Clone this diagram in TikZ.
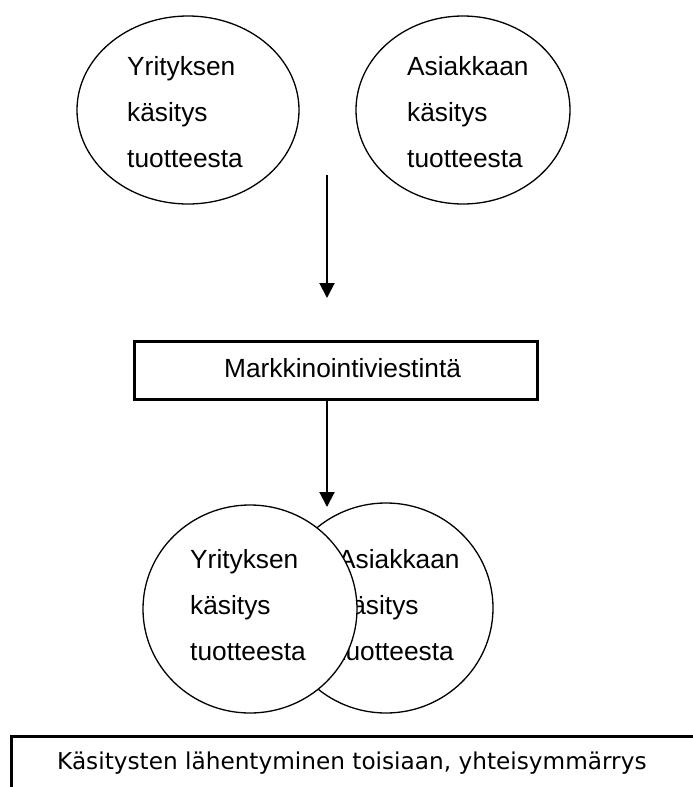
\documentclass[tikz,border=0pt]{standalone}
\usepackage{fontspec}
\setmainfont{Liberation Sans}
\newfontfamily\notefont{DejaVu Sans}
\usetikzlibrary{shapes.geometric,arrows.meta}

\tikzset{
  view/.style={ellipse, draw, line width=1.3pt, fill=white, inner sep=0pt},
  txt/.style={anchor=base west, inner sep=0pt, font=\fontsize{26.3}{30}\selectfont},
  framebox/.style={rectangle, draw, line width=3pt, inner sep=0pt},
  flow/.style={line width=2pt, -{Triangle[width=15pt,length=15pt]}}
}

\begin{document}
\begin{tikzpicture}[x=1pt,y=-1pt]
  \path[use as bounding box] (0,0) rectangle (693,787);
  \clip (0,0) rectangle (693,787);

  % two separate views of the product
  \node[view, minimum width=222pt, minimum height=188pt] (compA) at (188,110) {};
  \node[txt] (compA1) at (127,75) {Yrityksen};
  \node[txt] (compA2) at (127,121) {käsitys};
  \node[txt] (compA3) at (127,167) {tuotteesta};

  \node[view, minimum width=214pt, minimum height=188pt] (custA) at (463,110) {};
  \node[txt] (custA1) at (407,75) {Asiakkaan};
  \node[txt] (custA2) at (407,121) {käsitys};
  \node[txt] (custA3) at (407,167) {tuotteesta};

  % first arrow
  \coordinate (a1s) at (327,175);
  \coordinate (a1e) at (327,298);
  \draw[flow] (a1s) -- (a1e);

  % marketing communication box
  \node[framebox, minimum width=403pt, minimum height=58pt] (mk) at (335.5,370) {};
  \node[txt] (mkt) at (224,377) {Markkinointiviestintä};

  % second arrow
  \coordinate (a2s) at (327,399);
  \coordinate (a2e) at (327,507);
  \draw[flow] (a2s) -- (a2e);

  % overlapping views
  \node[view, minimum width=214pt, minimum height=210pt] (custB) at (386,608) {};
  \node[txt] (custB1) at (338,568) {Asiakkaan};
  \node[txt] (custB2) at (338,614) {käsitys};
  \node[txt] (custB3) at (338,660) {tuotteesta};

  \node[view, minimum width=214pt, minimum height=208pt] (compB) at (250,609) {};
  \node[txt] (compB1) at (190,568) {Yrityksen};
  \node[txt] (compB2) at (190,614) {käsitys};
  \node[txt] (compB3) at (190,660) {tuotteesta};

  % result box
  \node[framebox, anchor=north west, minimum width=740pt, minimum height=120pt] (res) at (10,735) {};
  \node[anchor=base west, inner sep=0pt, font=\notefont\fontsize{23.2}{28}\selectfont] (rest) at (57,769)
    {Käsitysten lähentyminen toisiaan, yhteisymmärrys};
\end{tikzpicture}
\end{document}
